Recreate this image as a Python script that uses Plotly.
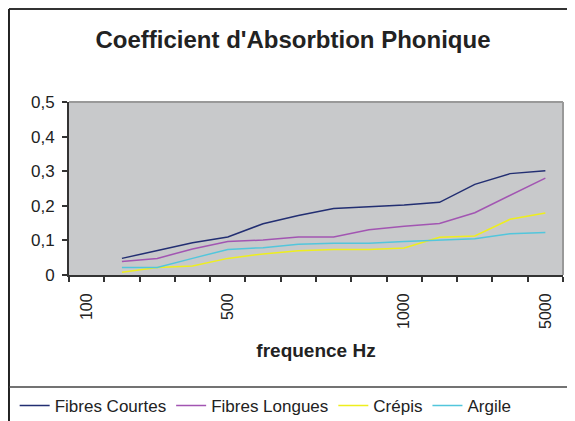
import plotly.graph_objects as go

# Category axis (Excel-like): 14 categories, only some labelled
categories = ["100", "", "", "", "500", "", "", "", "", "1000", "", "", "", "5000"]
point_idx = [1, 2, 3, 4, 5, 6, 7, 8, 9, 10, 11, 12, 13]

fibres_courtes = [0.048, 0.070, 0.093, 0.110, 0.148, 0.172, 0.192, 0.197, 0.202, 0.210, 0.262, 0.293, 0.301]
fibres_longues = [0.039, 0.048, 0.075, 0.097, 0.101, 0.110, 0.110, 0.131, 0.141, 0.149, 0.180, 0.230, 0.280]
crepis = [0.008, 0.022, 0.026, 0.048, 0.061, 0.070, 0.074, 0.074, 0.078, 0.109, 0.113, 0.161, 0.179]
argile = [0.022, 0.022, 0.048, 0.074, 0.079, 0.089, 0.092, 0.092, 0.097, 0.101, 0.105, 0.119, 0.123]

series = [
    ("Fibres Courtes", fibres_courtes, "#222E72"),
    ("Fibres Longues", fibres_longues, "#A255B2"),
    ("Crépis", crepis, "#EEEE1E"),
    ("Argile", argile, "#52C6DC"),
]

fig = go.Figure()
for name, vals, col in series:
    fig.add_trace(go.Scatter(x=point_idx, y=vals, mode="lines", name=name,
                             line=dict(color=col, width=1.5)))

label_pos = [i for i, c in enumerate(categories) if c]
label_txt = [c for c in categories if c]
boundaries = [i - 0.5 for i in range(len(categories) + 1)]

font = "Liberation Sans, Arial, sans-serif"
fig.update_layout(
    width=567, height=413,
    margin=dict(l=61, r=12, t=94, b=146, autoexpand=False),
    paper_bgcolor="white",
    plot_bgcolor="#C8C9CB",
    separators=",.",
    font=dict(family=font, color="#222222", size=15),
    title=dict(text="<b>Coefficient d'Absorbtion Phonique</b>", x=285 / 567, xref="container",
               xanchor="center", y=1 - 32 / 413, yanchor="middle",
               font=dict(size=24, family=font, color="#222222")),
    showlegend=True,
    legend=dict(orientation="h", x=-0.110, xanchor="left", y=-0.757, yanchor="middle",
                font=dict(size=17, family=font, color="#222222"), bgcolor="rgba(0,0,0,0)"),
    xaxis=dict(range=[-0.5, len(categories) - 0.5], tickmode="array", tickvals=label_pos,
               ticktext=label_txt, tickangle=-90, ticks="outside", ticklen=10,
               tickcolor="rgba(0,0,0,0)", showgrid=False, zeroline=False,
               showline=True, linecolor="#333333", linewidth=2, automargin=False,
               tickfont=dict(size=16),
               minor=dict(tickmode="array", tickvals=boundaries, ticks="outside", ticklen=5,
                          tickcolor="#333333", tickwidth=1.5, showgrid=False),
               title=dict(text="<b>frequence Hz</b>", font=dict(size=19), standoff=16)),
    yaxis=dict(range=[0, 0.5], dtick=0.1, tick0=0, ticks="outside", ticklen=5,
               tickcolor="#333333", tickwidth=1.5, showgrid=False, zeroline=False,
               showline=True, linecolor="#333333", linewidth=2, automargin=False,
               tickfont=dict(size=17), ticklabelstandoff=4),
    shapes=[
        dict(type="line", xref="paper", yref="paper", x0=0, x1=1, y0=1, y1=1,
             line=dict(color="#999999", width=2)),
        dict(type="line", xref="paper", yref="paper", x0=1, x1=1, y0=0, y1=1,
             line=dict(color="#999999", width=2)),
        dict(type="line", xref="paper", yref="paper", x0=-0.1215, x1=1.05, y0=1.5376, y1=1.5376,
             line=dict(color="#333333", width=2)),
        dict(type="line", xref="paper", yref="paper", x0=-0.1215, x1=-0.1215, y0=1.5376, y1=-0.9,
             line=dict(color="#222222", width=2)),
        dict(type="line", xref="paper", yref="paper", x0=-0.1215, x1=1.05, y0=-0.647, y1=-0.647,
             line=dict(color="#444444", width=1.5)),
    ],
)

fig.write_html("out.html")
